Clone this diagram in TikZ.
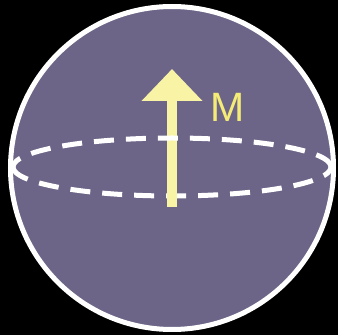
\documentclass[tikz,border=0pt]{standalone}
\usepackage{fontspec}
\setsansfont{Liberation Sans}
\usetikzlibrary{arrows.meta,positioning}
\definecolor{sphpurple}{RGB}{108,101,135}
\definecolor{magyellow}{RGB}{248,243,165}
\definecolor{lblyellow}{RGB}{245,236,120}

\begin{document}
\begin{tikzpicture}[x=1pt,y=1pt,
  sphere/.style={circle,draw=white,line width=5pt,fill=sphpurple,
                 minimum size=323pt,inner sep=0pt},
  equator/.style={white,line width=5pt,dash pattern=on 20pt off 12pt},
  magarr/.style={-{Triangle[width=59pt,length=32pt]},line width=10pt,magyellow},
  lab/.style={font=\sffamily\fontsize{41}{41}\selectfont,text=lblyellow,inner sep=0pt}
]
% background
\fill[black] (0,0) rectangle (338,335);
\useasboundingbox (0,0) rectangle (338,335);

% sphere
\node[sphere] (ball) at (172,167) {};
\coordinate (eq) at (172,168);

% equator, front half
\draw[equator] ([xshift=-159pt]eq) arc[start angle=180,end angle=360,x radius=159,y radius=29];

% magnetisation arrow
\coordinate (tail) at (172,128);
\coordinate (tip) at (172,266);
\draw[magarr] (tail) -- (tip);

% equator, back half
\draw[equator] ([xshift=159pt]eq) arc[start angle=0,end angle=180,x radius=159,y radius=29];

\node[lab] (mlabel) at (228,228) {M};

\end{tikzpicture}
\end{document}
